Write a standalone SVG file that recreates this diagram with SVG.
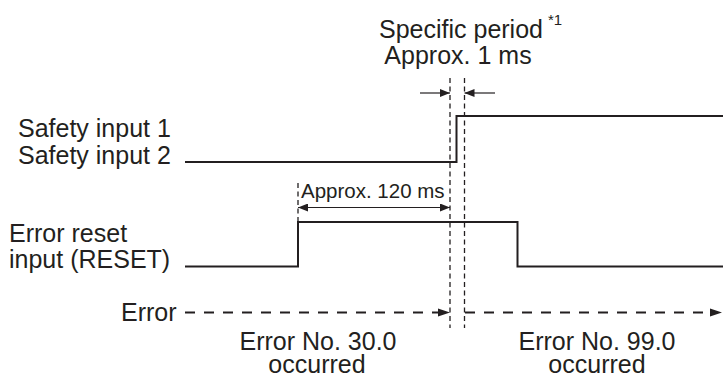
<svg xmlns="http://www.w3.org/2000/svg" width="723" height="381" viewBox="0 0 723 381">
<defs>
<marker id="ah" viewBox="0 0 10 8" refX="10" refY="4" markerWidth="10" markerHeight="8" markerUnits="userSpaceOnUse" orient="auto-start-reverse">
<path d="M0,0 L10,4 L0,8 Z" fill="#231f20"/>
</marker>
<style>
.t{font-family:"Liberation Sans",Arial,sans-serif;font-size:25px;fill:#231f20}
.sig{fill:none;stroke:#231f20;stroke-width:2}
.vd{fill:none;stroke:#231f20;stroke-width:1.3;stroke-dasharray:5 3.5}
.hd{fill:none;stroke:#231f20;stroke-width:2;stroke-dasharray:10 9}
.dim{fill:none;stroke:#231f20;stroke-width:1.2}
</style>
</defs>
<rect width="723" height="381" fill="#fff"/>
<g id="labels">
<text class="t" x="379" y="38">Specific period</text>
<text x="548" y="25" style="font-family:'Liberation Sans',Arial,sans-serif;font-size:15px;fill:#231f20">*1</text>
<text class="t" x="458" y="64" text-anchor="middle">Approx. 1 ms</text>
<text class="t" x="18" y="137">Safety input 1</text>
<text class="t" x="18" y="163.5">Safety input 2</text>
<text class="t" x="9" y="241.5">Error reset</text>
<text class="t" x="9" y="268">input (RESET)</text>
<text class="t" x="121" y="321">Error</text>
<text class="t" text-anchor="middle"><tspan x="318" y="350">Error No. 30.0</tspan><tspan x="317" y="372.5">occurred</tspan></text>
<text class="t" text-anchor="middle"><tspan x="597" y="350">Error No. 99.0</tspan><tspan x="597" y="372.5">occurred</tspan></text>
<text x="301" y="198" style="font-family:'Liberation Sans',Arial,sans-serif;font-size:20.5px;fill:#231f20">Approx. 120 ms</text>
</g>
<g id="safety-input">
<polyline class="sig" points="185,162 456.5,162 456.5,116 723,116"/>
</g>
<g id="reset-input">
<polyline class="sig" points="185,266.5 298,266.5 298,222 517.5,222 517.5,266.5 723,266.5"/>
</g>
<g id="connectors">
<line class="vd" x1="450" y1="78" x2="450" y2="328"/>
<line class="vd" x1="464.5" y1="78" x2="464.5" y2="328"/>
<line class="vd" x1="298" y1="183" x2="298" y2="222"/>
<line class="dim" x1="420" y1="93" x2="450" y2="93" marker-end="url(#ah)"/>
<line class="dim" x1="495" y1="93" x2="464.5" y2="93" marker-end="url(#ah)"/>
<line class="dim" x1="298" y1="207.5" x2="450" y2="207.5" marker-start="url(#ah)" marker-end="url(#ah)"/>
<line class="hd" x1="185" y1="312.5" x2="440" y2="312.5"/>
<path d="M438,308.5 L450,312.5 L438,316.5 Z" fill="#231f20"/>
<line class="hd" x1="465" y1="312.5" x2="712" y2="312.5"/>
<path d="M710,308.5 L722,312.5 L710,316.5 Z" fill="#231f20"/>
</g>
</svg>
